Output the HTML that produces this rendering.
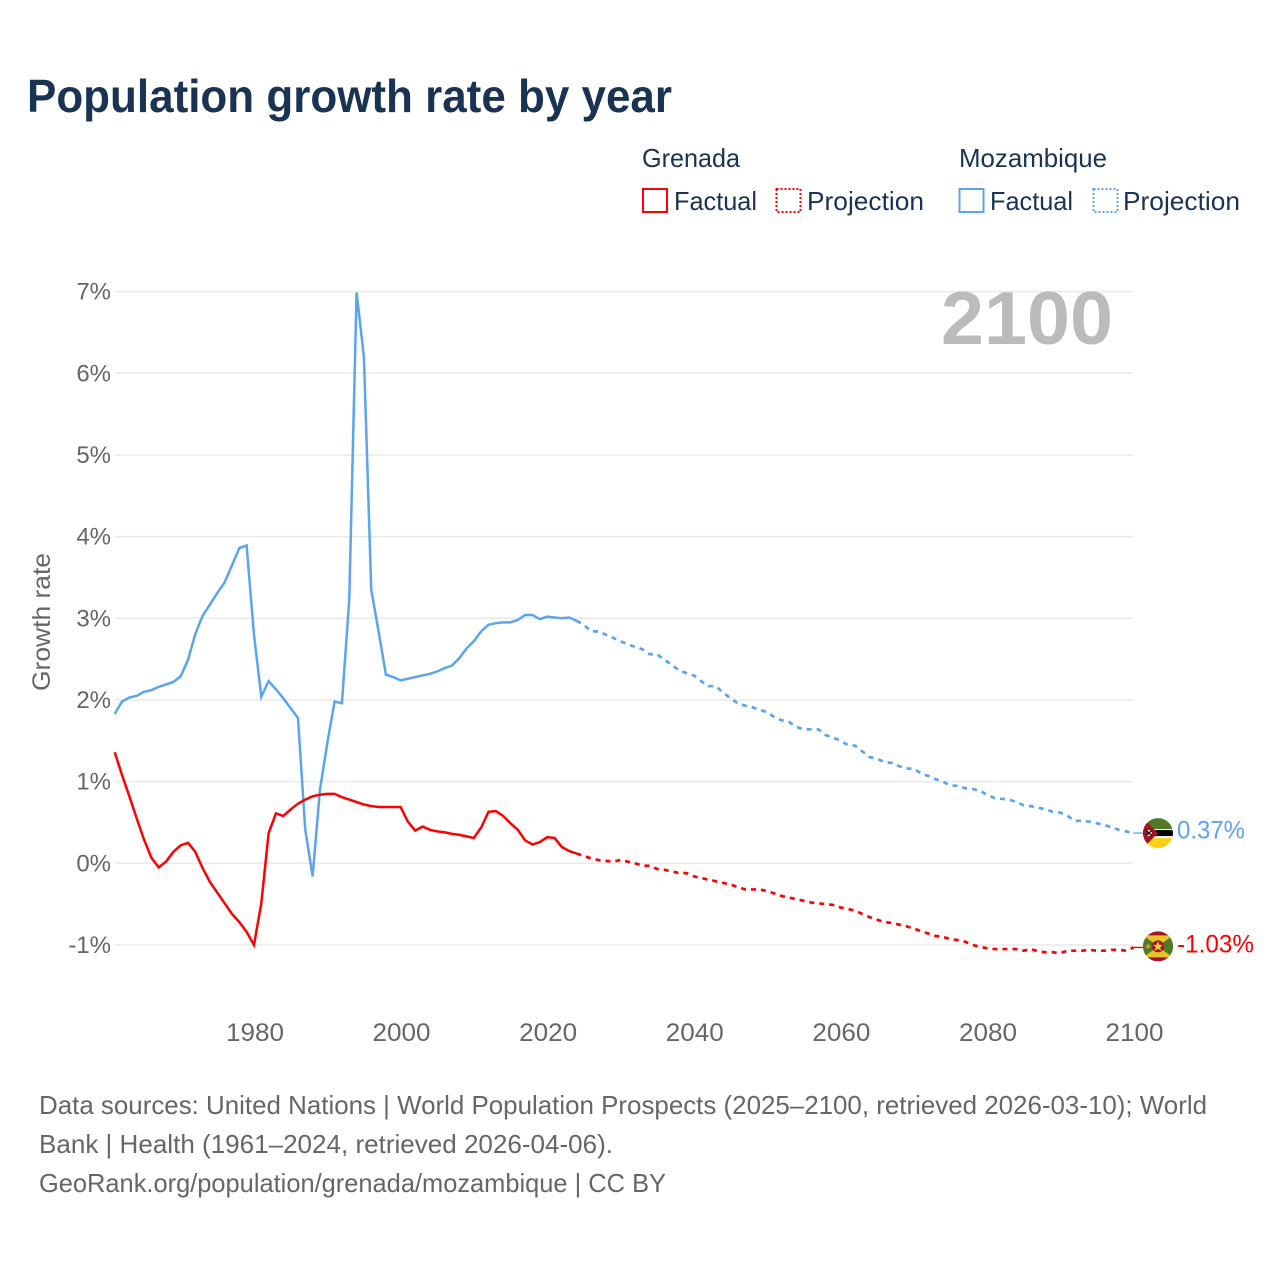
<!DOCTYPE html>
<html lang="en">
<head>
<meta charset="utf-8">
<title>Population growth rate by year</title>
<style>
html,body{margin:0;padding:0;background:#fff;width:1280px;height:1280px;overflow:hidden}
svg{display:block}
text{font-family:"Liberation Sans",sans-serif}
</style>
</head>
<body>
<svg id="chart" xmlns="http://www.w3.org/2000/svg" width="1280" height="1280" viewBox="0 0 1280 1280">
  <defs>
    <clipPath id="flag-clip"><circle cx="0" cy="0" r="15"/></clipPath>
  </defs>
  <text x="27" y="112" font-size="46" font-weight="700" fill="#1a3353" textLength="645" lengthAdjust="spacingAndGlyphs">Population growth rate by year</text>

  <g fill="#1a3353" font-size="26">
    <text x="642" y="167" textLength="98" lengthAdjust="spacingAndGlyphs">Grenada</text>
    <rect x="643" y="189" width="24" height="23" fill="none" stroke="#ff0000" stroke-width="2"/>
    <text x="674" y="210" textLength="83" lengthAdjust="spacingAndGlyphs">Factual</text>
    <rect x="776.500" y="189" width="24" height="23" fill="none" stroke="#ff0000" stroke-width="2" stroke-dasharray="2,2"/>
    <text x="807" y="210" textLength="117" lengthAdjust="spacingAndGlyphs">Projection</text>
    <text x="959" y="167" textLength="148" lengthAdjust="spacingAndGlyphs">Mozambique</text>
    <rect x="959.500" y="189" width="24" height="23" fill="none" stroke="#5ba4ee" stroke-width="2"/>
    <text x="990" y="210" textLength="83" lengthAdjust="spacingAndGlyphs">Factual</text>
    <rect x="1093.500" y="189" width="24" height="23" fill="none" stroke="#5ba4ee" stroke-width="2" stroke-dasharray="2,2"/>
    <text x="1123" y="210" textLength="117" lengthAdjust="spacingAndGlyphs">Projection</text>
  </g>

  <g id="grid"></g>
  <g id="y-ticks"></g>
  <g id="x-ticks"></g>
  <text transform="translate(50,622) rotate(-90)" text-anchor="middle" font-size="25" fill="#666666" textLength="138" lengthAdjust="spacingAndGlyphs">Growth rate</text>
  <text x="941" y="344" font-size="75" font-weight="700" fill="#bbbbbb" textLength="172" lengthAdjust="spacingAndGlyphs">2100</text>

  <g id="series"></g>

  <g id="end-mozambique">
    <g clip-path="url(#flag-clip)">
      <rect x="-15" y="-15" width="30" height="30" fill="#ffffff"/>
      <rect x="-15" y="-15" width="30" height="11" fill="#4f7a28"/>
      <rect x="-15" y="-3" width="30" height="6" fill="#000000"/>
      <rect x="-15" y="5" width="30" height="10" fill="#fcd116"/>
      <polygon points="-15,-15 0,0 -15,15" fill="#a4132b"/>
      <polygon points="-12,-3 -7,-3 -6,0 -8,3 -12,3 -10,0" fill="#f5e9b0"/>
      <path d="M-12,-3 L-6,3 M-6,-3 L-12,3" stroke="#000" stroke-width="1.2"/>
    </g>
    <text x="19" y="5.500" font-size="25" fill="#5ba4ee" textLength="68" lengthAdjust="spacingAndGlyphs">0.37%</text>
  </g>
  <g id="end-grenada">
    <g transform="translate(0,-1)">
    <g clip-path="url(#flag-clip)">
      <rect x="-15" y="-15" width="30" height="30" fill="#a4132b"/>
      <polygon points="-15,-11 15,-11 0,0" fill="#e8c62a"/>
      <polygon points="-15,11 15,11 0,0" fill="#e8c62a"/>
      <polygon points="-15,-11 0,0 -15,11" fill="#4f7a28"/>
      <polygon points="15,-11 0,0 15,11" fill="#4f7a28"/>
      <circle cx="0" cy="0" r="6" fill="#a4132b"/>
      <polygon points="0,-5 1.500,-1.500 5,-1.500 2.200,0.800 3.200,4.500 0,2.300 -3.200,4.500 -2.200,0.800 -5,-1.500 -1.500,-1.500" fill="#f2cf2e"/>
      <circle cx="-10" cy="0" r="2" fill="#c9a22a"/>
    </g>
    </g>
    <text x="19" y="5" font-size="25" fill="#ff0000" textLength="77" lengthAdjust="spacingAndGlyphs">-1.03%</text>
  </g>

  <g font-size="26" fill="#666666">
    <text x="39" y="1114" textLength="1168" lengthAdjust="spacingAndGlyphs">Data sources: United Nations | World Population Prospects (2025–2100, retrieved 2026-03-10); World</text>
    <text x="39" y="1153" textLength="574" lengthAdjust="spacingAndGlyphs">Bank | Health (1961–2024, retrieved 2026-04-06).</text>
    <text x="39" y="1192" textLength="627" lengthAdjust="spacingAndGlyphs">GeoRank.org/population/grenada/mozambique | CC BY</text>
  </g>
</svg>
<script>
const yTickValues = [-1, 0, 1, 2, 3, 4, 5, 6, 7];
const yTickLabels = ["-1%", "0%", "1%", "2%", "3%", "4%", "5%", "6%", "7%"];
const xTickValues = [1980, 2000, 2020, 2040, 2060, 2080, 2100];
const xTickLabels = ["1980", "2000", "2020", "2040", "2060", "2080", "2100"];
const factualStartYear = 1961;
const projectionStartYear = 2024;
const mozambiqueFactual = [1.83,1.98,2.03,2.05,2.10,2.12,2.16,2.19,2.22,2.29,
  2.49,2.81,3.03,3.17,3.31,3.44,3.65,3.86,3.89,2.80,
  2.04,2.23,2.13,2.02,1.90,1.78,0.41,-0.16,0.90,1.47,
  1.98,1.96,3.23,6.99,6.20,3.35,2.84,2.31,2.28,2.24,
  2.26,2.28,2.30,2.32,2.35,2.39,2.42,2.51,2.63,2.72,
  2.84,2.92,2.94,2.95,2.95,2.98,3.04,3.04,2.99,3.02,
  3.01,3.00,3.01,2.97];
const grenadaFactual = [1.36,1.08,0.82,0.55,0.29,0.07,-0.05,0.02,0.14,0.22,
  0.25,0.14,-0.06,-0.23,-0.36,-0.49,-0.62,-0.72,-0.84,-1.00,
  -0.49,0.37,0.61,0.58,0.66,0.73,0.78,0.82,0.84,0.85,
  0.85,0.81,0.78,0.75,0.72,0.70,0.69,0.69,0.69,0.69,
  0.51,0.40,0.45,0.41,0.39,0.38,0.36,0.35,0.33,0.31,
  0.44,0.63,0.64,0.58,0.49,0.41,0.28,0.23,0.26,0.32,
  0.31,0.20,0.15,0.12];
const mozambiqueProjection = [2.97,2.92,2.84,2.84,2.80,2.76,2.72,2.68,2.65,2.62,
  2.56,2.56,2.49,2.43,2.36,2.33,2.30,2.23,2.17,2.17,
  2.09,2.02,1.96,1.93,1.91,1.88,1.85,1.79,1.75,1.73,
  1.67,1.64,1.64,1.64,1.57,1.54,1.50,1.45,1.44,1.37,
  1.30,1.28,1.24,1.23,1.19,1.16,1.16,1.10,1.07,1.03,
  1.00,0.95,0.95,0.92,0.91,0.89,0.84,0.80,0.79,0.78,
  0.75,0.71,0.70,0.68,0.66,0.63,0.62,0.58,0.52,0.52,
  0.51,0.49,0.47,0.44,0.41,0.39,0.37];
const grenadaProjection = [0.12,0.09,0.06,0.04,0.03,0.02,0.04,0.02,0.00,-0.03,
  -0.03,-0.07,-0.08,-0.10,-0.12,-0.12,-0.16,-0.18,-0.20,-0.22,
  -0.24,-0.26,-0.29,-0.32,-0.32,-0.32,-0.34,-0.37,-0.40,-0.42,
  -0.44,-0.46,-0.48,-0.49,-0.50,-0.51,-0.54,-0.56,-0.58,-0.62,
  -0.66,-0.69,-0.72,-0.73,-0.75,-0.77,-0.80,-0.83,-0.86,-0.89,
  -0.90,-0.93,-0.94,-0.96,-1.00,-1.02,-1.04,-1.05,-1.05,-1.05,
  -1.05,-1.07,-1.05,-1.08,-1.09,-1.09,-1.10,-1.07,-1.07,-1.07,
  -1.06,-1.07,-1.07,-1.06,-1.06,-1.07,-1.03];

const NS = "http://www.w3.org/2000/svg";
const xScale = (year) => 114.7 + (year - 1961) * 7.33;
const yScale = (value) => 863.3 - value * 81.67;

const grid = document.getElementById("grid");
const yTicks = document.getElementById("y-ticks");
yTickValues.forEach(function (v, i) {
  const line = document.createElementNS(NS, "line");
  
  
  line.setAttribute("x1", 115);
  line.setAttribute("x2", 1133);
  line.setAttribute("y1", yScale(v));
  line.setAttribute("y2", yScale(v));
  line.setAttribute("stroke", "#eaeaea");
  line.setAttribute("stroke-width", "1.5");
  grid.appendChild(line);
  const label = document.createElementNS(NS, "text");
  
  
  label.setAttribute("x", 111);
  label.setAttribute("y", yScale(v) + 8);
  label.setAttribute("text-anchor", "end");
  label.setAttribute("font-size", "24");
  label.setAttribute("fill", "#666666");
  label.textContent = yTickLabels[i];
  yTicks.appendChild(label);
});

const xTicks = document.getElementById("x-ticks");
xTickValues.forEach(function (year, i) {
  const label = document.createElementNS(NS, "text");
  
  
  label.setAttribute("x", xScale(year) + 1);
  label.setAttribute("y", 1041);
  label.setAttribute("text-anchor", "middle");
  label.setAttribute("font-size", "25");
  label.setAttribute("fill", "#666666");
  label.setAttribute("textLength", "58");
  label.setAttribute("lengthAdjust", "spacingAndGlyphs");
  label.textContent = xTickLabels[i];
  xTicks.appendChild(label);
});

function pathFor(values, startYear) {
  return values.map(function (v, i) {
    return (i ? "L" : "M") + xScale(startYear + i).toFixed(2) + "," + yScale(v).toFixed(2);
  }).join(" ");
}

const seriesGroup = document.getElementById("series");

const mozProjPath = document.createElementNS(NS, "path");


mozProjPath.setAttribute("d", pathFor(mozambiqueProjection, projectionStartYear));
mozProjPath.setAttribute("fill", "none");
mozProjPath.setAttribute("stroke", "#5ba4ee");
mozProjPath.setAttribute("stroke-width", "2.7");
mozProjPath.setAttribute("stroke-dasharray", "5,5");
seriesGroup.appendChild(mozProjPath);

const greProjPath = document.createElementNS(NS, "path");


greProjPath.setAttribute("d", pathFor(grenadaProjection, projectionStartYear));
greProjPath.setAttribute("fill", "none");
greProjPath.setAttribute("stroke", "#ff0000");
greProjPath.setAttribute("stroke-width", "2.7");
greProjPath.setAttribute("stroke-dasharray", "5,5");
seriesGroup.appendChild(greProjPath);

const mozFactPath = document.createElementNS(NS, "path");


mozFactPath.setAttribute("d", pathFor(mozambiqueFactual, factualStartYear));
mozFactPath.setAttribute("fill", "none");
mozFactPath.setAttribute("stroke", "#5ba4ee");
mozFactPath.setAttribute("stroke-width", "2.5");
seriesGroup.appendChild(mozFactPath);

const greFactPath = document.createElementNS(NS, "path");


greFactPath.setAttribute("d", pathFor(grenadaFactual, factualStartYear));
greFactPath.setAttribute("fill", "none");
greFactPath.setAttribute("stroke", "#ff0000");
greFactPath.setAttribute("stroke-width", "2.5");
seriesGroup.appendChild(greFactPath);

const mozLast = mozambiqueProjection[mozambiqueProjection.length - 1];
const greLast = grenadaProjection[grenadaProjection.length - 1];

const mozConnector = document.createElementNS(NS, "line");


mozConnector.setAttribute("x1", xScale(2100));
mozConnector.setAttribute("x2", 1143);
mozConnector.setAttribute("y1", yScale(mozLast));
mozConnector.setAttribute("y2", yScale(mozLast));
mozConnector.setAttribute("stroke", "#5ba4ee");
mozConnector.setAttribute("stroke-width", "1.3");
seriesGroup.appendChild(mozConnector);

const greConnector = document.createElementNS(NS, "line");


greConnector.setAttribute("x1", xScale(2100));
greConnector.setAttribute("x2", 1143);
greConnector.setAttribute("y1", yScale(greLast));
greConnector.setAttribute("y2", yScale(greLast));
greConnector.setAttribute("stroke", "#ff0000");
greConnector.setAttribute("stroke-width", "1.3");
seriesGroup.appendChild(greConnector);

document.getElementById("end-mozambique").setAttribute("transform", "translate(1158," + yScale(mozLast).toFixed(2) + ")");
document.getElementById("end-grenada").setAttribute("transform", "translate(1158," + yScale(greLast).toFixed(2) + ")");
</script>
</body>
</html>
